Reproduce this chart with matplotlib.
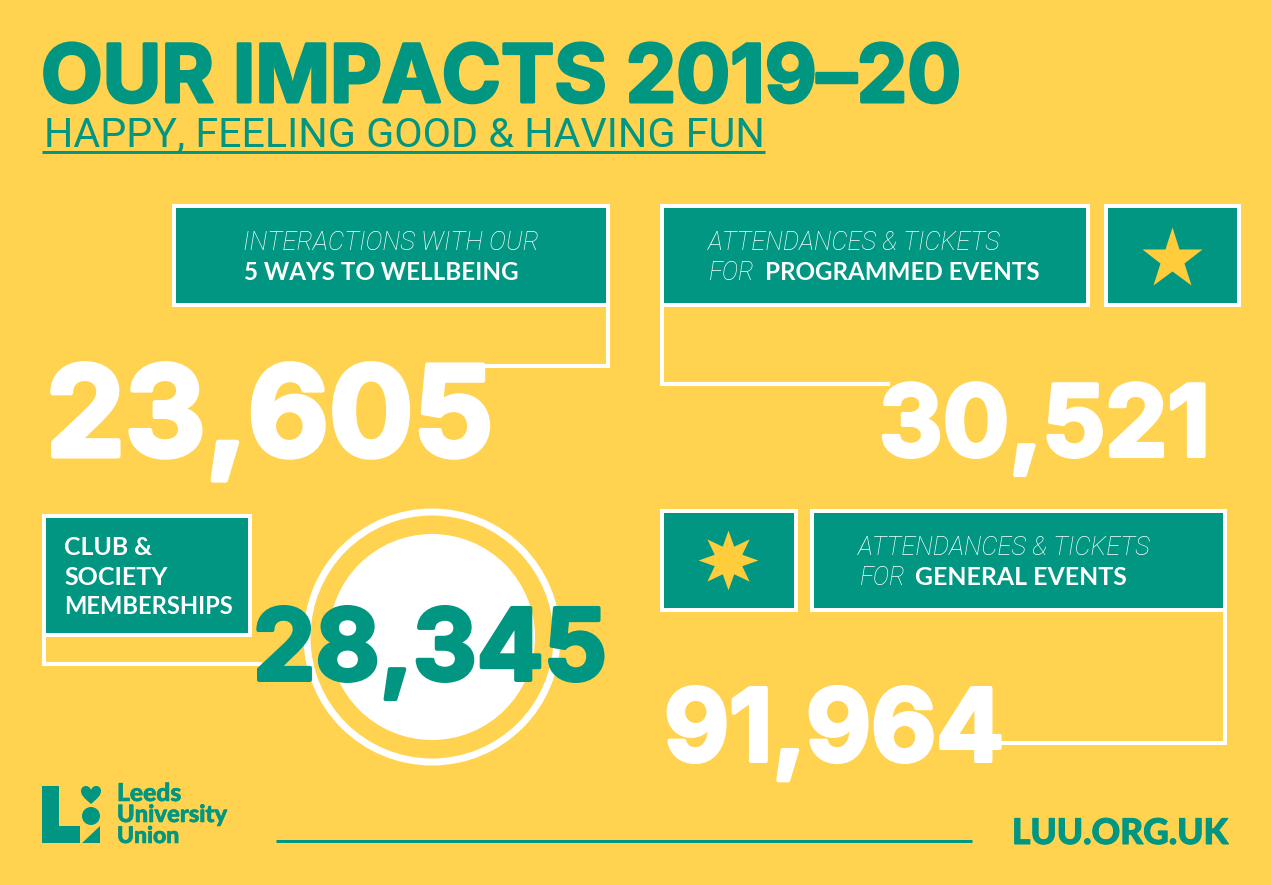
import matplotlib
matplotlib.use('Agg')
import matplotlib.pyplot as plt
import matplotlib.patheffects as pe
from matplotlib.patches import Rectangle, Circle, Polygon, PathPatch
from matplotlib.path import Path

# values and labels
title = 'OUR IMPACTS 2019\u201320'
subtitle = 'HAPPY, FEELING GOOD & HAVING FUN'
wellbeing = 23605
programmed = 30521
memberships = 28345
general = 91964
footer_url = 'LUU.ORG.UK'
logo_lines = ['Leeds', 'University', 'Union']

TEAL = '#009681'
YELLOW = '#FFD34F'
STAR = '#FFCC3C'
WHITE = '#FFFFFF'
px = 0.72  # points per pixel at dpi 100
HEAVY = ['Inter', 'DejaVu Sans']
THIN = ['Roboto', 'DejaVu Sans']

plt.rcParams['font.family'] = ['Lato', 'DejaVu Sans']

fig = plt.figure(figsize=(12.71, 8.85), dpi=100, facecolor=YELLOW)
ax = fig.add_axes([0, 0, 1, 1])
ax.set_xlim(0, 1271)
ax.set_ylim(885, 0)
ax.axis('off')


def label(x, y, s, size, color=WHITE, weight='normal', style='normal', fit=None, family=None, fatten=0):
    # y is the baseline in pixels, size is in pixels; fit squeezes to a pixel width
    t = ax.text(x, y, s, fontsize=size * px, color=color, fontweight=weight,
                fontstyle=style, ha='left', va='baseline', zorder=6)
    if family:
        t.set_family(family)
    if fit:
        w = t.get_window_extent(fig.canvas.get_renderer()).width
        t.set_fontsize(size * px * fit / w)
    if fatten:
        t.set_path_effects([pe.withStroke(linewidth=fatten * px, foreground=color)])
    return t


def thin(x, y, s, fit):
    return label(x, y, s, 24, weight='light', style='italic', fit=fit, family=THIN)


def box(x0, y0, x1, y1):
    ax.add_patch(Rectangle((x0, y0), x1 - x0, y1 - y0, facecolor=TEAL, edgecolor=WHITE,
                           linewidth=4 * px, joinstyle='miter', zorder=3))


def connector(xs, ys):
    ax.plot(xs, ys, color=WHITE, lw=4 * px, solid_joinstyle='miter',
            solid_capstyle='butt', zorder=2)


# heading
label(41, 102, title, 84, color=TEAL, weight='bold', fit=920, fatten=3, family=HEAVY)
label(44, 147, subtitle, 40, color=TEAL, fit=720, family=THIN)
ax.plot([42, 765], [152, 152], color=TEAL, lw=3 * px, solid_capstyle='butt')

# top left panel
connector([608, 608, 480], [305, 366, 366])
box(174, 206, 608, 305)
thin(243, 250, 'INTERACTIONS WITH OUR', 297)
label(244, 280, '5 WAYS TO WELLBEING', 24, weight='bold', fit=274)
label(46, 456, f'{wellbeing:,}', 140, weight='bold', fit=447, fatten=5, family=HEAVY)

# top right panel
connector([662, 662, 890], [305, 384, 384])
box(662, 206, 1088, 305)
box(1106, 206, 1239, 305)
thin(708, 250, 'ATTENDANCES & TICKETS', 293)
thin(709, 280, 'FOR', 46)
label(765, 280, 'PROGRAMMED EVENTS', 24, weight='bold', fit=273)
ax.plot(1172, 259, marker='*', ms=46, mfc=STAR, mec='none', zorder=5)
label(879, 456, f'{programmed:,}', 118, weight='bold', fit=331, fatten=4, family=HEAVY)

# bottom left panel
connector([44, 44, 262], [635, 664, 664])
box(44, 516, 250, 635)
label(64, 555, 'CLUB &', 24, weight='bold', fit=88)
label(64, 585, 'SOCIETY', 24, weight='bold', fit=103)
label(64, 614, 'MEMBERSHIPS', 24, weight='bold', fit=169)
ax.add_patch(Circle((432, 637), 125, facecolor='none', edgecolor=WHITE, lw=7 * px, zorder=1))
ax.add_patch(Circle((432, 637), 103, facecolor=WHITE, edgecolor='none', zorder=1))
label(253, 680, f'{memberships:,}', 118, color=TEAL, weight='bold', fit=354, fatten=4, family=HEAVY)

# bottom right panel
connector([1225, 1225, 1000], [610, 743, 743])
box(662, 511, 796, 610)
box(812, 511, 1225, 610)
star8 = Path.unit_regular_star(8, innerCircle=0.5)
ax.plot(728, 560, marker=star8, ms=43, mfc=STAR, mec='none', zorder=5)
thin(858, 555, 'ATTENDANCES & TICKETS', 293)
thin(860, 585, 'FOR', 46)
label(915, 585, 'GENERAL EVENTS', 24, weight='bold', fit=211)
label(664, 761, f'{general:,}', 118, weight='bold', fit=340, fatten=4, family=HEAVY)

# logo
ax.add_patch(Polygon([(42, 786), (59, 786), (59, 826), (80, 826), (80, 843), (42, 843)],
                     facecolor=TEAL, edgecolor='none'))
heart = Path([(91, 804), (84, 798), (81, 795), (81, 791), (81, 785), (89, 784), (91, 790),
              (93, 784), (101, 785), (101, 791), (101, 795), (98, 798), (91, 804)],
             [Path.MOVETO] + [Path.CURVE4] * 12)
ax.add_patch(PathPatch(heart, facecolor=TEAL, edgecolor='none'))
ax.add_patch(Circle((91, 816), 9, facecolor=TEAL, edgecolor='none'))
ax.add_patch(Polygon([(82, 843), (100, 843), (100, 826)], facecolor=TEAL, edgecolor='none'))
for line, y, w in zip(logo_lines, [801, 822, 843], [64, 110, 62]):
    label(117, y, line, 22, color=TEAL, weight='black', fit=w, fatten=0.6)

# footer
ax.plot([276, 972], [841, 841], color=TEAL, lw=3 * px, solid_capstyle='butt')
label(1012, 844, footer_url, 36, color=TEAL, weight='black', fit=216, fatten=1)

fig.savefig('out.png', dpi=100, facecolor=YELLOW)
